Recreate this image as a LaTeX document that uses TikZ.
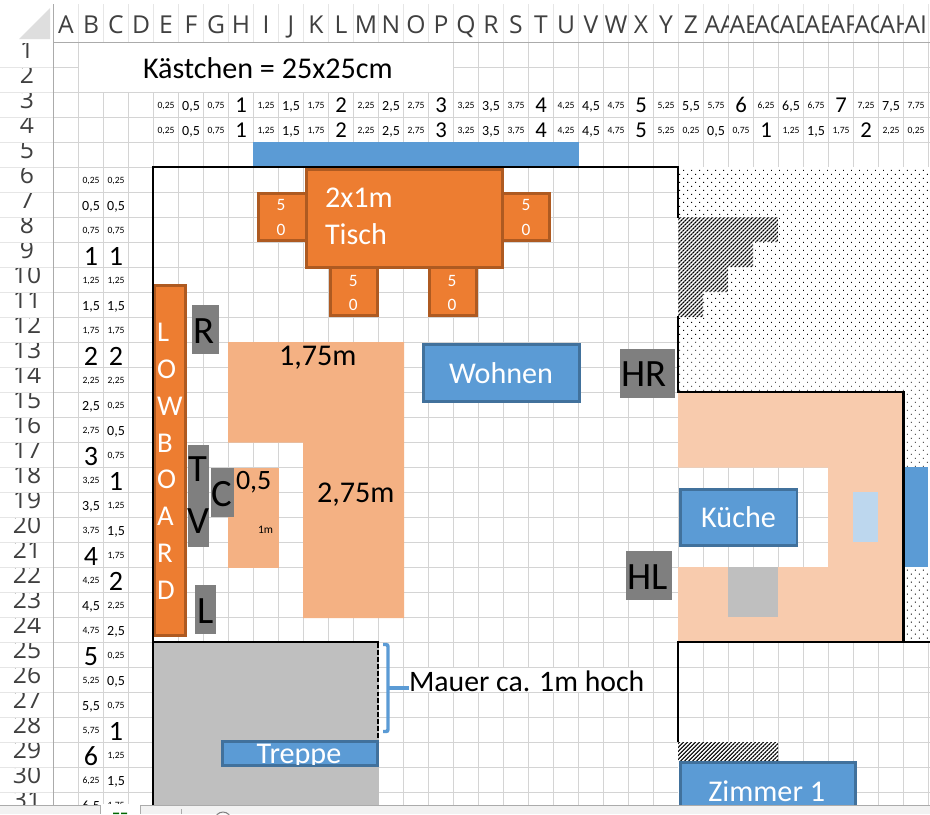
\documentclass[tikz,border=0pt]{standalone}
\usepackage{fontspec}
\setmainfont{Carlito}
\newfontfamily\hdrfont{Open Sans}
\usetikzlibrary{patterns.meta}
\definecolor{gridcol}{HTML}{D4D4D4}
\definecolor{headcol}{HTML}{E6E6E6}
\definecolor{rulecol}{HTML}{ABABAB}
\definecolor{orangecol}{HTML}{ED7D31}
\definecolor{orangeedge}{HTML}{AE5A21}
\definecolor{bluecol}{HTML}{5B9BD5}
\definecolor{blueedge}{HTML}{41719C}
\definecolor{couchcol}{HTML}{F4B183}
\definecolor{kitchencol}{HTML}{F8CBAD}
\definecolor{palecol}{HTML}{BDD7EE}
\definecolor{stonecol}{HTML}{BFBFBF}
\definecolor{greycol}{HTML}{7F7F7F}
\tikzset{
  every node/.style={inner sep=0pt, outer sep=0pt},
  headtext/.style={font=\hdrfont\fontsize{18.5}{18.5}\selectfont, text=black!75, anchor=base},
  qsmall/.style={font=\fontsize{7.2}{8}\selectfont, anchor=base, yshift=6.75pt},
  qmid/.style={font=\fontsize{10.5}{11}\selectfont, anchor=base, yshift=5.6pt},
  qtop/.style={font=\fontsize{17}{18}\selectfont, anchor=base, yshift=3.5pt},
  qleft/.style={font=\fontsize{21}{22}\selectfont, anchor=base, yshift=1.5pt},
  bigtext/.style={font=\fontsize{22.6}{23}\selectfont, anchor=base west},
  whitetext/.style={bigtext, text=white},
  chairtext/.style={font=\fontsize{13}{14}\selectfont, text=white, anchor=base},
  greytext/.style={font=\fontsize{29}{30}\selectfont, text=black, anchor=base west},
  orangebox/.style={fill=orangecol, draw=orangeedge, line width=2.1pt},
  bluebox/.style={fill=bluecol, draw=blueedge, line width=2.1pt},
  wall/.style={line width=1.6pt, line cap=rect},
  bracketline/.style={draw=bluecol, line width=2.6pt},
  dotfill/.style={preaction={fill=white}, pattern={Dots[angle=45, distance=4.24pt, radius=0.48pt]}},
  hatchfill/.style={preaction={fill=white}, pattern={Lines[angle=45, distance=2.12pt, line width=0.8pt]}}
}
\newcommand{\qnum}[5]{%
  \pgfmathtruncatemacro{\qint}{int(#4/4)}%
  \pgfmathtruncatemacro{\qrem}{mod(#4,4)}%
  \ifcase\qrem
    \node[#5] (#1) at (#2,#3) {\qint};
  \or
    \node[qsmall] (#1) at (#2,#3) {\qint,25};
  \or
    \node[qmid] (#1) at (#2,#3) {\qint,5};
  \or
    \node[qsmall] (#1) at (#2,#3) {\qint,75};
  \fi
}
\begin{document}
\begin{tikzpicture}[x=0.75pt, y=-0.75pt]
\useasboundingbox (0,0) rectangle (930,814);
\fill[white] (0,0) rectangle (930,814);
% sheet grid
\foreach \i in {1,...,35}
  \draw[gridcol, line width=0.75pt] (53.5+25*\i,42.5) -- (53.5+25*\i,805);
\foreach \r in {1,...,31}
  \draw[gridcol, line width=0.75pt] (53.5,42.5+25*\r) -- (930,42.5+25*\r);
\foreach \i in {0,...,35}
  \draw[headcol, line width=0.75pt] (53.5+25*\i,4) -- (53.5+25*\i,42.5);
\foreach \r in {1,...,31}
  \draw[headcol, line width=0.75pt] (0,42.5+25*\r) -- (53.5,42.5+25*\r);
\fill[white] (79,43) rectangle (453,92);
\fill[white] (404,668) rectangle (652,692);
\draw[rulecol, line width=0.9pt] (53.5,4) -- (53.5,805) (53.5,42.5) -- (930,42.5);
\fill[black!13] (19,39) -- (50,8) -- (50,39) -- cycle;
% column heads
\foreach \c [count=\i from 0] in {A,B,C,D,E,F,G,H,I,J,K,L,M,N,O,P,Q,R,S,T,U,V,W,X,Y,Z} {
  \begin{scope}
    \clip (53.5+25*\i,5) rectangle (78.5+25*\i,42);
    \node[headtext] (col\c) at (66+25*\i,33) {\c};
  \end{scope}
}
\foreach \c [count=\i from 26] in {AA,AB,AC,AD,AE,AF,AG,AH,AI} {
  \begin{scope}
    \clip (53.5+25*\i,5) rectangle (78.5+25*\i,42);
    \node[headtext, anchor=base west] (col\c) at (54.5+25*\i,33) {\c};
  \end{scope}
}
% row heads
\foreach \r in {1,...,31} {
  \begin{scope}
    \clip (0,18+25*\r) rectangle (53,42+25*\r);
    \node[headtext] (row\r) at (27,33+25*\r) {\r};
  \end{scope}
}
% quarter metre numbers
\foreach \k [count=\i] in {1,...,31} {
  \qnum{topa\i}{141+25*\i}{117.5}{\k}{qtop}
}
\foreach \k [count=\i] in {1,2,3,4,5,6,7,8,9,10,11,12,13,14,15,16,17,18,19,20,21,1,2,3,4,5,6,7,8,9,1} {
  \qnum{topb\i}{141+25*\i}{142.5}{\k}{qtop}
}
\foreach \k in {1,...,26} {
  \qnum{leftb\k}{91}{167.5+25*\k}{\k}{qleft}
}
\foreach \k [count=\i] in {1,2,3,4,5,6,7,8,9,1,2,3,4,5,6,7,8,9,10,1,2,3,4,5,6,7} {
  \qnum{leftc\i}{116}{167.5+25*\i}{\k}{qleft}
}
\node[bigtext] (masstab) at (143,78.3) {Kästchen = 25x25cm};
% outside and hatching
\fill[bluecol] (253,142) rectangle (578.5,167);
\path[dotfill] (678,167) rectangle (930,392);
\path[dotfill] (904,392) rectangle (930,642);
\path[dotfill] (678,761) rectangle (682,805);
\path[hatchfill] (678,217) -- (778,217) -- (778,242) -- (753,242) -- (753,267) -- (728,267) -- (728,292) -- (703,292) -- (703,317) -- (678,317) -- cycle;
\path[hatchfill] (678,742) rectangle (778,761);
% kitchen
\fill[kitchencol] (678,392) -- (904,392) -- (904,642) -- (678,642) -- (678,567) -- (828,567) -- (828,467.5) -- (678,467.5) -- cycle;
\fill[palecol] (853,492) rectangle (878,542);
\fill[stonecol] (728,567) rectangle (778,617);
\fill[bluecol] (904,467) rectangle (928,567);
% stairs
\fill[stonecol] (153,642) rectangle (379,805);
% walls
\draw[wall] (678,217) -- (678,167) -- (153,167) -- (153,805);
\draw[wall] (678,317) -- (678,392) -- (903.5,392) -- (903.5,642);
\draw[wall] (153,642) -- (378,642);
\draw[wall] (930,642) -- (678,642) -- (678,741);
\draw[line width=1.4pt, dash pattern=on 3.6pt off 1.6pt] (378,643) -- (378,740);
% couch
\fill[couchcol] (228,342) -- (404,342) -- (404,618) -- (303,618) -- (303,442.5) -- (228,442.5) -- cycle;
\fill[couchcol] (228,467.5) rectangle (279,567.5);
\node[bigtext] (couchtop) at (279,365) {1,75m};
\node[bigtext] (couchside) at (317,502.3) {2,75m};
\node[bigtext, font=\fontsize{21}{22}\selectfont] (hockerwidth) at (236,489.3) {0,5};
\node[anchor=base west, font=\fontsize{8.6}{9}\selectfont] (hockerlen) at (258,533.3) {1m};
% table and chairs
\draw[orangebox] (258.5,193.5) rectangle (306,240.5) (281,210.7) node[chairtext] (chairla) {5} (281,235) node[chairtext] (chairlb) {0};
\draw[orangebox] (503,193.5) rectangle (549.5,240.5) (526,210.7) node[chairtext] (chairra) {5} (526,235) node[chairtext] (chairrb) {0};
\draw[orangebox] (330.5,267) rectangle (377.5,315.5) (353.3,286) node[chairtext] (chairba) {5} (353.3,310) node[chairtext] (chairbb) {0};
\draw[orangebox] (429.5,267) rectangle (476.5,315.5) (452,286) node[chairtext] (chaircma) {5} (452,310) node[chairtext] (chaircmb) {0};
\draw[orangebox] (306.5,169.5) rectangle (502.5,267.5) (325,207) node[whitetext] (tischsize) {2x1m} (325,244) node[whitetext] (tisch) {Tisch};
% lowboard
\draw[orangebox] (155,285.5) rectangle (185.5,635.5);
\foreach \c [count=\i from 0] in {L,O,W,B,O,A,R,D} {
  \node[whitetext, font=\fontsize{21.5}{22}\selectfont] (lowboard\i) at (157,341.5+36.85*\i) {\c};
}
% speakers
\fill[greycol] (192,305) rectangle (219,354) (193.5,343.3) node[greytext] (speakerr) {R};
\fill[greycol] (188,445) rectangle (209,547) (198,481.7) node[greytext, anchor=base] (tvt) {T} (198,533.3) node[greytext, anchor=base] (tvv) {V};
\fill[greycol] (211,468) rectangle (234,517) (221.7,506) node[greytext, anchor=base] (speakerc) {C};
\fill[greycol] (195,585) rectangle (216,634) (197,623) node[greytext] (speakerl) {L};
\fill[greycol] (620,349) rectangle (675,398) (621.7,386.7) node[greytext] (speakerhr) {HR};
\fill[greycol] (626,551) rectangle (672,600) (627.5,589) node[greytext] (speakerhl) {HL};
% blue labels
\draw[bluebox] (423.5,344.5) rectangle (579.5,401.5) (501,383.3) node[whitetext, anchor=base] (wohnen) {Wohnen};
\draw[bluebox] (680.5,489.5) rectangle (797,545.5) (738.5,527.3) node[whitetext, anchor=base] (kueche) {Küche};
\draw[bluebox] (222.5,741.5) rectangle (377.5,765.5);
\begin{scope}
  \clip (224,743) rectangle (376,764);
  \node[whitetext, anchor=base] (treppe) at (299,763) {Treppe};
\end{scope}
\begin{scope}
  \clip (670,750) rectangle (870,805);
  \draw[bluebox] (680.5,762.5) rectangle (855.5,812);
\end{scope}
\node[whitetext, anchor=base] (zimmer) at (766.7,801.7) {Zimmer 1};
% wall note
\node[bigtext, font=\fontsize{22.3}{23}\selectfont] (mauer) at (409,691) {Mauer ca. 1m hoch};
\coordinate (braceMid) at (388,688);
\draw[bracketline, rounded corners=1.5pt] (383,644.5) -- (388,644.5) -- (388,731.5) -- (383,731.5);
\draw[bracketline] (braceMid) -- (braceMid -| mauer.west);
% sheet tabs
\fill[black!5] (0,805) rectangle (930,814);
\fill[white] (101,804) rectangle (140,814);
\draw[rulecol, line width=0.75pt] (0,805.5) -- (100.5,805.5) -- (100.5,814) (140.5,814) -- (140.5,805.5) -- (930,805.5);
\draw[rulecol, line width=0.75pt] (181.5,809) -- (181.5,814);
\fill[green!40!black] (113,812.5) rectangle (119,814) (121,812.5) rectangle (127,814);
\begin{scope}
  \clip (205,806) rectangle (240,814);
  \draw[black!50, line width=0.75pt] (223,820) circle (8);
\end{scope}
\end{tikzpicture}
\end{document}
